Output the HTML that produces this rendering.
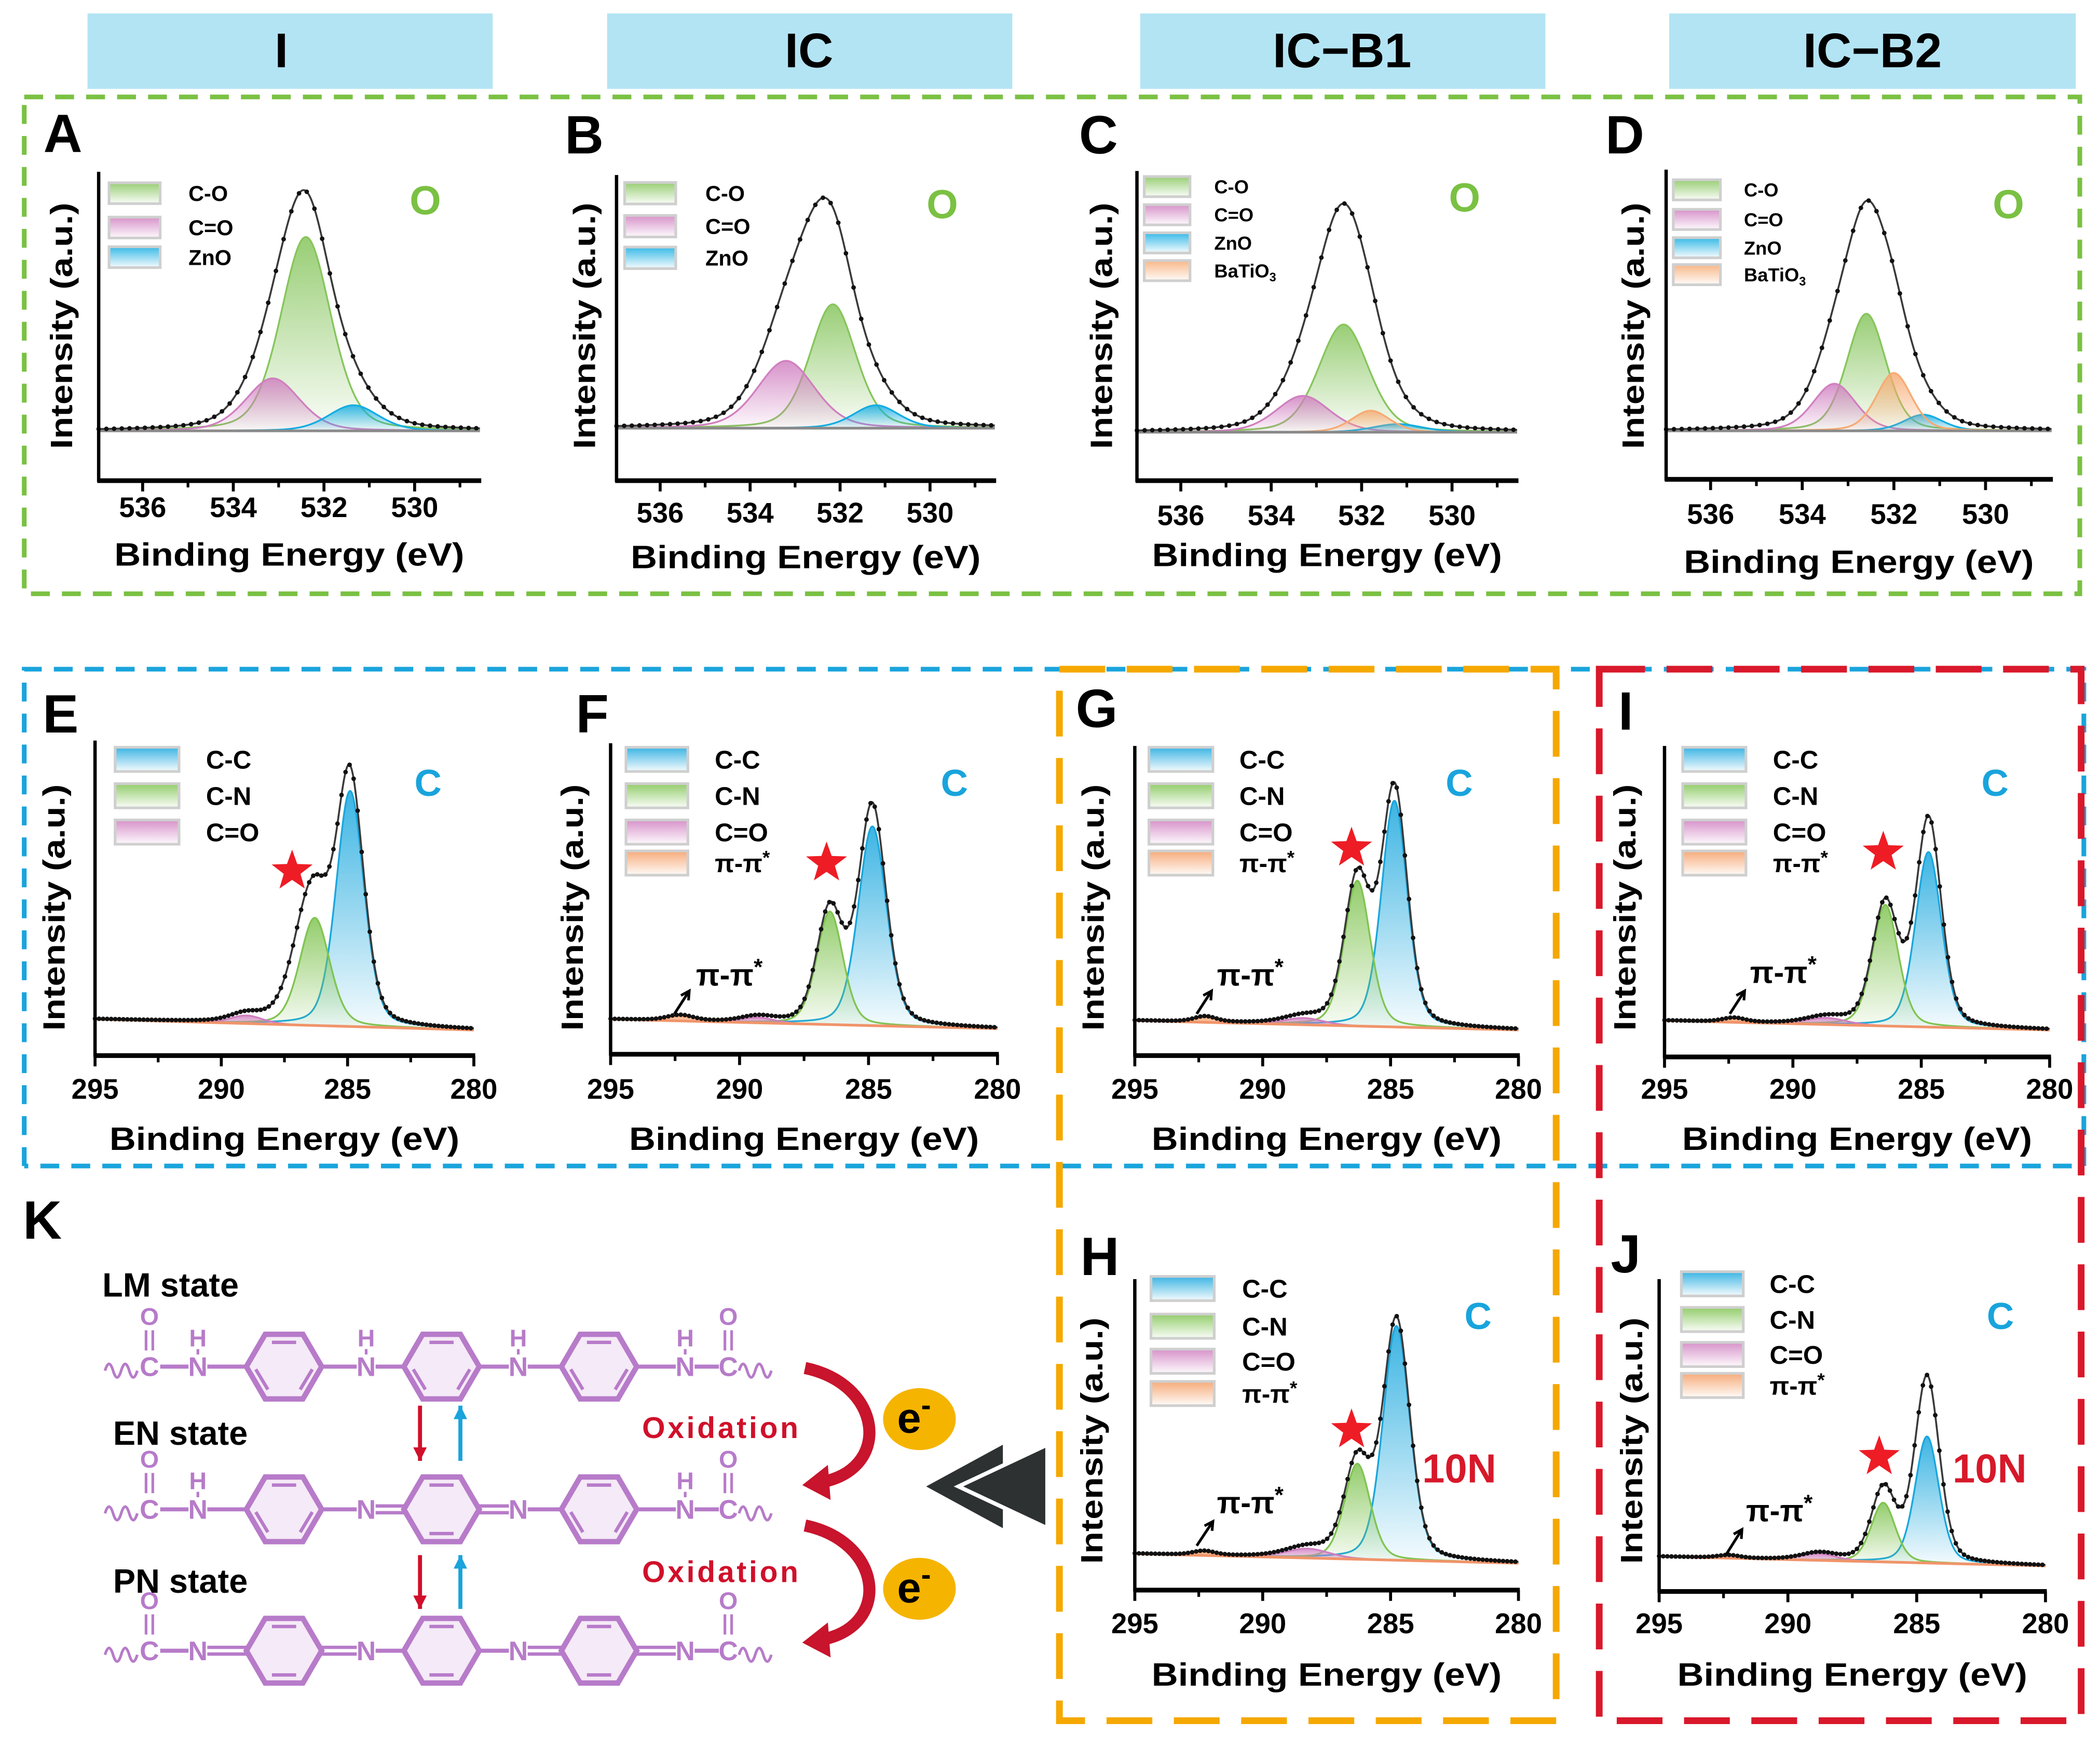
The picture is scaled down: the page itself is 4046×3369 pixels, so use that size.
<!DOCTYPE html>
<html><head><meta charset="utf-8"><title>XPS spectra figure</title>
<style>
html,body{margin:0;padding:0;background:#fff;}
svg{display:block;font-family:"Liberation Sans",Arial,sans-serif;font-weight:bold;}
</style></head>
<body>
<svg id="fig" xmlns="http://www.w3.org/2000/svg" width="4046" height="3369" viewBox="0 0 1560 1299" preserveAspectRatio="none">
<defs id="defs"></defs>
<g>
 <rect x="65" y="10" width="301" height="56" fill="#b3e4f4"/>
 <text x="209" y="50" font-size="36" text-anchor="middle">I</text>
 <rect x="451" y="10" width="301" height="56" fill="#b3e4f4"/>
 <text x="601" y="50" font-size="36" text-anchor="middle">IC</text>
 <rect x="847" y="10" width="301" height="56" fill="#b3e4f4"/>
 <text x="997" y="50" font-size="36" text-anchor="middle">IC−B1</text>
 <rect x="1240" y="10" width="302" height="56" fill="#b3e4f4"/>
 <text x="1391" y="50" font-size="36" text-anchor="middle">IC−B2</text>
</g>
<g fill="none">
 <rect x="18" y="72" width="1527" height="369" stroke="#7ac143" stroke-width="3.5" stroke-dasharray="14 9"/>
 <path d="M18 866 L18 497 L1548 497 L1548 866 L18 866" stroke="#19a4dc" stroke-width="3.5" stroke-dasharray="14 9"/>
 <rect x="787" y="497" width="369" height="781" stroke="#f5a800" stroke-width="5" stroke-dasharray="34 16"/>
 <rect x="1188" y="497" width="358" height="781" stroke="#d9182b" stroke-width="5" stroke-dasharray="34 16"/>
</g>
<g id="panels"></g>
<g id="schemeK"></g>
</svg>
<script>
// ---------------- DATA (O 1s) ----------------
const O_ticks=[536,534,532,530];
const O_minor=[535,533,531,529];
const A_names=['C-O','C=O','ZnO'];
const A_centers=[532.4,533.13,531.35];
const A_heights=[144,39,19];
const A_fwhm=[1.3,1.4,1.3];
const A_bg=[37,37];
const A_extraC=[532.4];
const A_extraH=[12];
const A_extraW=[2.0];
const B_names=['C-O','C=O','ZnO'];
const B_centers=[532.16,533.2,531.2];
const B_heights=[92,50,17];
const B_fwhm=[1.2,1.5,1.2];
const B_bg=[39,39];
const B_extraC=[532.6];
const B_extraH=[68];
const B_extraW=[1.6];
const C_names=['C-O','C=O','ZnO','BaTiO3'];
const C_centers=[532.4,533.3,531.2,531.8];
const C_heights=[80,27,6,16];
const C_fwhm=[1.3,1.4,1.3,1.0];
const C_bg=[36,36];
const C_extraC=[532.4];
const C_extraH=[74];
const C_extraW=[1.5];
const D_names=['C-O','C=O','ZnO','BaTiO3'];
const D_centers=[532.6,533.3,531.36,532.0];
const D_heights=[87,35,12,43];
const D_fwhm=[1.0,1.1,1.0,0.9];
const D_bg=[36,36];
const D_extraC=[532.6];
const D_extraH=[58];
const D_extraW=[1.6];
// ---------------- DATA (C 1s) ----------------
const C1s_ticks=[295,290,285,280];
const C1s_minor=[292.5,287.5,282.5];
const E_names=['C-C','C-N','C=O'];
const E_centers=[284.9,286.3,289.0];
const E_heights=[175,80,6];
const E_fwhm=[1.3,1.4,1.5];
const E_bg=[27,19];
const E_extraC=[286.9,285.0];
const E_extraH=[28,10];
const E_extraW=[1.5,1.0];
const F_names=['C-C','C-N','C=O','π-π*'];
const F_centers=[284.85,286.5,289.3,292.3];
const F_heights=[148,84,4,4];
const F_fwhm=[1.3,1.2,1.5,1.2];
const F_bg=[26,19];
const F_extraC=[284.9];
const F_extraH=[15];
const F_extraW=[1.0];
const G_names=['C-C','C-N','C=O','π-π*'];
const G_centers=[284.85,286.3,288.4,292.25];
const G_heights=[168,108,5,4];
const G_fwhm=[1.2,1.2,1.8,1.0];
const G_bg=[26,19];
const G_extraC=[284.85];
const G_extraH=[8];
const G_extraW=[1.0];
const I_names=['C-C','C-N','C=O','π-π*'];
const I_centers=[284.72,286.4,288.7,292.3];
const I_heights=[130,90,5,3];
const I_fwhm=[1.2,1.2,1.8,1.0];
const I_bg=[27,20];
const I_extraC=[284.7];
const I_extraH=[24];
const I_extraW=[1.0];
const H_names=['C-C','C-N','C=O','π-π*'];
const H_centers=[284.77,286.3,288.25,292.3];
const H_heights=[174,71,7,3];
const H_fwhm=[1.25,1.2,2.0,1.0];
const H_bg=[27,20];
const H_extraC=[284.8];
const H_extraH=[4];
const H_extraW=[1.0];
const J_names=['C-C','C-N','C=O','π-π*'];
const J_centers=[284.6,286.3,288.8,292.3];
const J_heights=[94,44,5,2];
const J_fwhm=[1.1,1.1,1.6,1.0];
const J_bg=[26,19];
const J_extraC=[284.6,286.2];
const J_extraH=[44,10];
const J_extraW=[1.2,1.2];

const NS='http://www.w3.org/2000/svg';
const colors={'C-O':'#86c55c','C=O':'#d07fc0','ZnO':'#14ade2','BaTiO3':'#f7aa72','C-C':'#19a7de','C-N':'#80c451','π-π*':'#f59c62'};
function mk(tag,attrs,parent){const e=document.createElementNS(NS,tag);for(const k in attrs)e.setAttribute(k,attrs[k]);if(parent)parent.appendChild(e);return e;}
const defs=document.getElementById('defs');
const gradIds={};
Object.keys(colors).forEach((n,i)=>{
  const g=mk('linearGradient',{id:'gr'+i,x1:0,y1:0,x2:0,y2:1},defs);
  mk('stop',{offset:0,'stop-color':colors[n],'stop-opacity':0.85},g);
  mk('stop',{offset:1,'stop-color':colors[n],'stop-opacity':0.04},g);
  gradIds[n]='gr'+i;
});
function pv(d,w){const r=d*d/(w*w);return 0.72*Math.exp(-2.7726*r)+0.28/(1+4*r);}

function drawPanel(L,names,centers,heights,fwhm,bg,exC,exH,exW){
  const root=document.getElementById('panels');
  const g=mk('g',{},root);
  
  
  const xs=e=>L.x0+(L.eL-e)/(L.eL-L.eR)*(L.x1-L.x0);
  const ys=v=>L.yAxis-v;
  const bgAt=e=>bg[0]+(bg[1]-bg[0])*(L.eL-e)/(L.eL-L.eR);
  const st=(L.eL-L.eR)/400;
  const es=[];for(let e=L.eL;e>=L.eR-1e-9;e-=st)es.push(e);
  const lt=mk('text',{x:L.letter[0],y:L.letter[1]+14,'font-size':40,'text-anchor':'middle'},g);
  
  
  lt.textContent=L.id;
  names.forEach((n,i)=>{
    let top='';
    es.forEach((e,k)=>{const v=bgAt(e)+heights[i]*pv(e-centers[i],fwhm[i]);top+=(k?'L':'M')+xs(e).toFixed(2)+' '+ys(v).toFixed(2);});
    let back='';for(let k=es.length-1;k>=0;k--)back+='L'+xs(es[k]).toFixed(2)+' '+ys(bgAt(es[k])).toFixed(2);
    const area=mk('path',{d:top+back+'Z',fill:'url(#'+gradIds[n]+')',stroke:'none'},g);
    
    
    const ln=mk('path',{d:top,fill:'none',stroke:colors[n],'stroke-width':1.3},g);
    
    
  });
  const bl=mk('line',{x1:xs(L.eL),y1:ys(bg[0]),x2:xs(L.eR),y2:ys(bg[1]),stroke:L.kind==='O'?'#8a8a8a':'#f0946a','stroke-width':2},g);
  
  
  const env=e=>bgAt(e)+names.reduce((s,n,i)=>s+heights[i]*pv(e-centers[i],fwhm[i]),0)+exC.reduce((s,c,i)=>s+exH[i]*pv(e-c,exW[i]),0);
  let ed='';es.forEach((e,k)=>{ed+=(k?'L':'M')+xs(e).toFixed(2)+' '+ys(env(e)).toFixed(2);});
  const el=mk('path',{d:ed,fill:'none',stroke:'#3a3a3a','stroke-width':1.4},g);
  
  
  const dg=mk('g',{fill:'#111'},g);
  
  
  const step=L.kind==='O'?0.17:0.16;
  for(let e=L.eL;e>=L.eR;e-=step){const c=mk('circle',{cx:xs(e).toFixed(2),cy:ys(env(e)).toFixed(2),r:1.7},dg);
    
    }
  const ya=mk('line',{x1:L.x0,y1:L.yTop,x2:L.x0,y2:L.yAxis+1,stroke:'#000','stroke-width':2.5},g);
  
  
  const xa=mk('line',{x1:L.x0-1,y1:L.yAxis,x2:L.x1+1,y2:L.yAxis,stroke:'#000','stroke-width':3.5},g);
  
  
  const ticks=L.kind==='O'?O_ticks:C1s_ticks, minor=L.kind==='O'?O_minor:C1s_minor;
  ticks.forEach(t=>{
    const tm=mk('line',{x1:xs(t),y1:L.yAxis,x2:xs(t),y2:L.yAxis+8,stroke:'#000','stroke-width':2.2},g);
    
    
    const tl=mk('text',{x:xs(t),y:L.tickY+8,'font-size':21,'text-anchor':'middle'},g);
    
    
    tl.textContent=t;
  });
  minor.forEach(t=>{const tm=mk('line',{x1:xs(t),y1:L.yAxis,x2:xs(t),y2:L.yAxis+5,stroke:'#000','stroke-width':2},g);
    
    });
  const xl=mk('text',{x:(L.x0+L.x1)/2,y:L.xlabY+9,'font-size':24,'text-anchor':'middle',textLength:260,lengthAdjust:'spacingAndGlyphs'},g);
  
  
  xl.textContent='Binding Energy (eV)';
  const yl=mk('text',{x:0,y:0,'font-size':23,'text-anchor':'middle',textLength:183,lengthAdjust:'spacingAndGlyphs',transform:'translate('+(L.ylab+8)+','+L.ylabC+') rotate(-90)'},g);
  
  
  yl.textContent='Intensity (a.u.)';
  names.forEach((n,i)=>{
    const y=L.legRows[i];
    const sw=mk('rect',{x:L.legX,y:y-L.legH/2,width:L.legW,height:L.legH,fill:'url(#'+gradIds[n]+')',stroke:'#cfcfcf','stroke-width':2},g);
    
    
    const tx=mk('text',{x:L.labX,y:y+L.labSize*0.36,'font-size':L.labSize},g);
    
    
    if(n==='BaTiO3'){tx.textContent='BaTiO';const s=mk('tspan',{'font-size':L.labSize*0.65,dy:3},tx);s.textContent='3';}
    else if(n==='π-π*'){tx.textContent='π-π';const s=mk('tspan',{'font-size':L.labSize*0.75,dy:-6},tx);s.textContent='*';}
    else tx.textContent=n;
  });
  const eLab=mk('text',{x:L.el[0],y:L.el[1]+10,'font-size':L.kind==='O'?30:28,'text-anchor':'middle',fill:L.kind==='O'?'#7ac143':'#19a4dc'},g);
  
  
  eLab.textContent=L.kind;
  if(L.star){
    const cx=L.star[0],cy=L.star[1];let p='';
    for(let k=0;k<10;k++){const r=k%2?6.5:16,a=-Math.PI/2+k*Math.PI/5;p+=(cx+r*Math.cos(a)).toFixed(1)+','+(cy+r*Math.sin(a)).toFixed(1)+' ';}
    const s=mk('polygon',{points:p,fill:'#ee1c25'},g);
    
    
  }
  if(L.pi){
    const t=mk('text',{x:L.pi[0],y:L.pi[1]+8,'font-size':23},g);
    
    
    t.textContent='π-π';const s=mk('tspan',{'font-size':17,dy:-8},t);s.textContent='*';
    const a=L.arrow;
    const al=mk('line',{x1:a[0],y1:a[1],x2:a[2],y2:a[3],stroke:'#000','stroke-width':2},g);
    
    
    const ang=Math.atan2(a[3]-a[1],a[2]-a[0]);
    const h=mk('polyline',{points:(a[2]-7*Math.cos(ang-0.5))+','+(a[3]-7*Math.sin(ang-0.5))+' '+a[2]+','+a[3]+' '+(a[2]-7*Math.cos(ang+0.5))+','+(a[3]-7*Math.sin(ang+0.5)),fill:'none',stroke:'#000','stroke-width':2},g);
    
    
  }
  if(L.tenN){
    const t=mk('text',{x:L.tenN[0],y:L.tenN[1]+11,'font-size':30,'text-anchor':'middle',fill:'#d7182a'},g);
    
    
    t.textContent='10N';
  }
}
const OE={kind:'O',eL:536.97,eR:528.56,ylabC:242};
drawPanel(Object.assign({id:'A',x0:73.3,x1:356.5,yAxis:357,yTop:127.6,letter:[46.7,99],ylab:45.5,legX:81,legW:38,legRows:[143.5,169,191],legH:15.5,labX:140,labSize:16,el:[316,149],tickY:376,xlabY:411},OE),A_names,A_centers,A_heights,A_fwhm,A_bg,A_extraC,A_extraH,A_extraW);
drawPanel(Object.assign({id:'B',x0:458,x1:739,yAxis:357,yTop:130,letter:[434,100],ylab:434,legX:464,legW:38,legRows:[143.5,168,191.5],legH:16,labX:524,labSize:16,el:[700,152],tickY:380,xlabY:413},OE),B_names,B_centers,B_heights,B_fwhm,B_bg,B_extraC,B_extraH,B_extraW);
drawPanel(Object.assign({id:'C',x0:844.6,x1:1127,yAxis:357,yTop:127,letter:[816,100],ylab:818,legX:850,legW:34,legRows:[138.6,159.5,180.4,201],legH:15,labX:902,labSize:14,el:[1088,147],tickY:382,xlabY:411.5},OE),C_names,C_centers,C_heights,C_fwhm,C_bg,C_extraC,C_extraH,C_extraW);
drawPanel(Object.assign({id:'D',x0:1237.7,x1:1524,yAxis:356,yTop:126,letter:[1207,100],ylab:1213,legX:1243,legW:35,legRows:[141,163,184,204],legH:15,labX:1295.5,labSize:14,el:[1492,152],tickY:381,xlabY:416.5},OE),D_names,D_centers,D_heights,D_fwhm,D_bg,D_extraC,D_extraH,D_extraW);
const CE={kind:'C',eL:295,eR:280,legH:18,labSize:19};
const rowsT=[564,591,618,641];
drawPanel(Object.assign({id:'E',x0:70.6,x1:352,yAxis:784,yTop:550,letter:[45,530],ylab:40,ylabC:674,legX:85.5,legW:47.5,legRows:rowsT,labX:153,el:[318,581],tickY:808,xlabY:845,star:[217,647]},CE),E_names,E_centers,E_heights,E_fwhm,E_bg,E_extraC,E_extraH,E_extraW);
drawPanel(Object.assign({id:'F',x0:453.6,x1:741,yAxis:783,yTop:552,letter:[440,530],ylab:425,ylabC:674,legX:465,legW:46,legRows:rowsT,labX:531,el:[709,581],tickY:808,xlabY:845,star:[614,641],pi:[517,724],arrow:[501,753,512,736]},CE),F_names,F_centers,F_heights,F_fwhm,F_bg,F_extraC,F_extraH,F_extraW);
drawPanel(Object.assign({id:'G',x0:843,x1:1128,yAxis:784,yTop:554,letter:[814.7,526],ylab:812,ylabC:674,legX:853.5,legW:47.5,legRows:rowsT,labX:920.7,el:[1084,581],tickY:808,xlabY:845,star:[1004,630],pi:[904,724],arrow:[889,753,900,736]},CE),G_names,G_centers,G_heights,G_fwhm,G_bg,G_extraC,G_extraH,G_extraW);
drawPanel(Object.assign({id:'I',x0:1236.5,x1:1522.6,yAxis:785,yTop:554,letter:[1207.7,528],ylab:1207,ylabC:674,legX:1250,legW:47,legRows:rowsT,labX:1317,el:[1482,581],tickY:808,xlabY:845,star:[1399,633],pi:[1300,722],arrow:[1285,753,1296,736]},CE),I_names,I_centers,I_heights,I_fwhm,I_bg,I_extraC,I_extraH,I_extraW);
drawPanel(Object.assign({id:'H',x0:843,x1:1128,yAxis:1181,yTop:950,letter:[817,933],ylab:811,ylabC:1070,legX:855,legW:47,legRows:[957,985,1011,1035],labX:922.7,el:[1098,977],tickY:1205,xlabY:1243,star:[1004,1062],pi:[904,1116],arrow:[889,1148,901,1130],tenN:[1084,1090]},CE),H_names,H_centers,H_heights,H_fwhm,H_bg,H_extraC,H_extraH,H_extraW);
drawPanel(Object.assign({id:'J',x0:1232.5,x1:1519.5,yAxis:1182,yTop:950,letter:[1207.7,931],ylab:1212,ylabC:1070,legX:1249,legW:46,legRows:[953.5,980,1006,1029],labX:1314.6,el:[1486,977],tickY:1205,xlabY:1243,star:[1396,1082],pi:[1297,1122],arrow:[1282,1155,1294,1136],tenN:[1478,1090]},CE),J_names,J_centers,J_heights,J_fwhm,J_bg,J_extraC,J_extraH,J_extraW);

// ---------------- Panel K scheme ----------------
(function(){
  const K=document.getElementById('schemeK');
  const P='#b77bc9';
  function txt(x,y,s,size,fill,name,anchor){const t=mk('text',{x:x,y:y,'font-size':size,fill:fill,'text-anchor':anchor||'start'},K);
    
    
    t.textContent=s;return t;}
  txt(17,920,'K',40,'#000','panel-letter-K');
  txt(76,963,'LM state',25,'#000','lm-state-label');
  txt(84,1073,'EN state',25,'#000','en-state-label');
  txt(84,1183,'PN state',25,'#000','pn-state-label');
  function line(x1,y1,x2,y2,c,w,name){const l=mk('line',{x1:x1,y1:y1,x2:x2,y2:y2,stroke:c,'stroke-width':w},K);
    
    return l;}
  function bond(x1,x2,y,dbl){if(dbl){line(x1,y-2.5,x2,y-2.5,P,2.5,'double-bond');line(x1,y+2.5,x2,y+2.5,P,2.5,'double-bond');}else line(x1,y,x2,y,P,3,'single-bond');}
  function ring(cx,cy,quin){
    const p=[[cx-28,cy],[cx-14,cy-24],[cx+14,cy-24],[cx+28,cy],[cx+14,cy+24],[cx-14,cy+24]];
    const r=mk('polygon',{points:p.map(q=>q.join(',')).join(' '),fill:'#f5eaf7',stroke:P,'stroke-width':4},K);
    
    
    if(quin){line(cx-9,cy-18,cx+9,cy-18,P,2.5,'ring-inner-bond');line(cx-9,cy+18,cx+9,cy+18,P,2.5,'ring-inner-bond');}
    else{line(cx-9,cy-18,cx+9,cy-18,P,2.5,'ring-inner-bond');line(cx-21,cy+2,cx-12,cy+17,P,2.5,'ring-inner-bond');line(cx+21,cy+2,cx+12,cy+17,P,2.5,'ring-inner-bond');}
  }
  function wave(x,y){const w=mk('path',{d:`M${x} ${y+3} q3 -10 6 0 t6 0 t6 0 t6 0`,fill:'none',stroke:P,'stroke-width':2},K);
    
    }
  function row(y,type){
    wave(78,y);wave(549,y);
    txt(111,y+7,'C',20,P,'atom-C','middle');txt(541,y+7,'C',20,P,'atom-C','middle');
    [111,541].forEach(x=>{txt(x,y-31,'O',18,P,'atom-O','middle');line(x-2.5,y-27,x-2.5,y-12,P,2,'carbonyl-bond');line(x+2.5,y-27,x+2.5,y-12,P,2,'carbonyl-bond');});
    bond(119,140,y,false);bond(516,534,y,false);
    const Ns=[147,272,385,509];
    Ns.forEach(x=>txt(x,y+7,'N',20,P,'atom-N','middle'));
    const H={LM:[1,1,1,1],EN:[1,0,0,1],PN:[0,0,0,0]}[type];
    Ns.forEach((x,i)=>{if(H[i]){txt(x,y-15,'H',18,P,'atom-H','middle');line(x,y-13,x,y-9,P,2,'N-H-bond');}});
    const D={LM:[0,0,0,0,0,0],EN:[0,0,1,1,0,0],PN:[1,1,0,0,1,1]}[type];
    const segs=[[154,183],[239,265],[279,300],[356,378],[392,417],[473,502]];
    segs.forEach((s,i)=>bond(s[0],s[1],y,D[i]));
    ring(211,y,type==='PN');ring(328,y,type!=='LM');ring(445,y,type==='PN');
  }
  row(1015,'LM');row(1121,'EN');row(1226,'PN');
  function varrow(x,y1,y2,c,name){line(x,y1,x,y2,c,3,name);const d=y2>y1?1:-1;
    const h=mk('polygon',{points:`${x-5},${y2-10*d} ${x+5},${y2-10*d} ${x},${y2}`,fill:c},K);
    
    }
  varrow(312,1044,1085,'#d0102a','reduction-arrow-1');varrow(342,1085,1044,'#1aa3dc','oxidation-arrow-1');
  varrow(312,1155,1195,'#d0102a','reduction-arrow-2');varrow(342,1195,1155,'#1aa3dc','oxidation-arrow-2');
  txt(477,1068,'Oxidation',22,'#d0102a','oxidation-label-1').setAttribute('textLength','116');
  txt(477,1175,'Oxidation',22,'#d0102a','oxidation-label-2').setAttribute('textLength','116');
  [0,117].forEach((dy,i)=>{
    const c=mk('path',{d:`M598 ${1016+dy} C655 ${1028+dy}, 662 ${1088+dy}, 614 ${1100+dy}`,fill:'none',stroke:'#c8142c','stroke-width':9},K);
    
    
    const h=mk('polygon',{points:`596,${1103+dy} 615,${1088+dy} 617,${1114+dy}`,fill:'#c8142c'},K);
    
    
    const cy=i?1180:1054;
    const e=mk('ellipse',{cx:683,cy:cy,rx:27,ry:23,fill:'#f5b400'},K);
    
    
    const t=txt(679,cy+10,'e',32,'#000','electron-label','middle');
    const s=mk('tspan',{'font-size':22,dy:-13},t);s.textContent='-';
  });
  const c1=mk('polygon',{points:'688,1104 745,1073 745,1135',fill:'#2d3131'},K);
  
  
  const c2=mk('polygon',{points:'712,1104 778,1073 778,1135',fill:'#2d3131',stroke:'#fff','stroke-width':3},K);
  
  
})();
</script>
</body></html>
